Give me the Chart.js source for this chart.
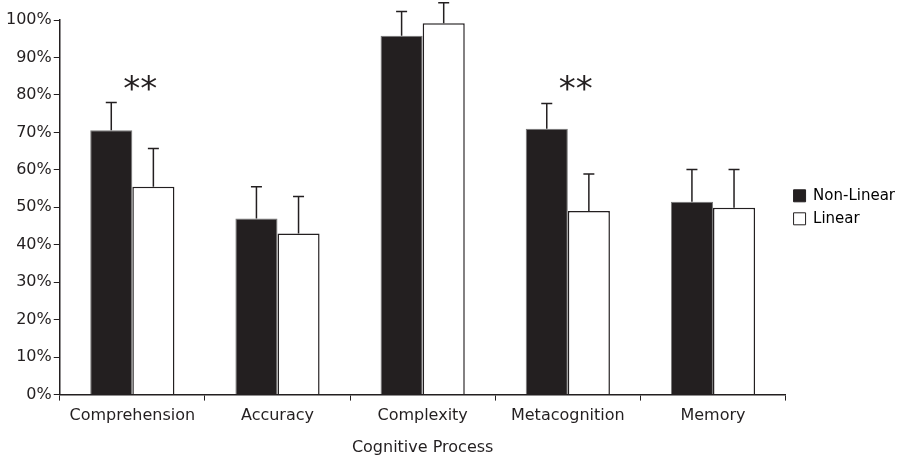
<!DOCTYPE html>
<html>
<head>
<meta charset="utf-8">
<script src="https://cdn.jsdelivr.net/npm/chart.js@4.4.0/dist/chart.umd.min.js"></script>
<style>
  html, body { margin: 0; padding: 0; background: #fff; }
  #wrap { width: 908px; height: 457px; }
</style>
</head>
<body>
<div id="wrap"><canvas id="chart" width="908" height="457"></canvas></div>
<script>
var categories = ["Comprehension", "Accuracy", "Complexity", "Metacognition", "Memory"];
var nonLinear = [70.6, 47.0, 95.8, 71.0, 51.5];
var nonLinearErr = [7.4, 8.5, 6.5, 6.7, 8.6];
var linear = [55.5, 43.0, 99.1, 49.0, 49.9];
var linearErr = [10.2, 9.9, 5.5, 9.9, 10.2];
var sigMarks = ["**", "", "", "**", ""];
var sigLevel = 82;

var ink = "#231f20";

// up-only error bars with a small cap
var errorBars = {
    id: "errorBars",
    afterDatasetsDraw: function (chart) {
        var ctx = chart.ctx;
        var yScale = chart.scales.y;
        ctx.save();
        ctx.strokeStyle = ink;
        ctx.lineWidth = 1.5;
        chart.data.datasets.forEach(function (ds, di) {
            var meta = chart.getDatasetMeta(di);
            meta.data.forEach(function (bar, i) {
                var top = yScale.getPixelForValue(ds.data[i] + ds.errors[i]);
                ctx.beginPath();
                ctx.moveTo(bar.x, bar.y);
                ctx.lineTo(bar.x, top);
                ctx.moveTo(bar.x - 5.5, top);
                ctx.lineTo(bar.x + 5.5, top);
                ctx.stroke();
            });
        });
        ctx.restore();
    }
};

// significance asterisks
var sigStars = {
    id: "sigStars",
    afterDatasetsDraw: function (chart) {
        var ctx = chart.ctx;
        var xScale = chart.scales.x, yScale = chart.scales.y;
        ctx.save();
        ctx.fillStyle = ink;
        ctx.font = "34px 'DejaVu Sans'";
        ctx.textAlign = "center";
        ctx.textBaseline = "middle";
        sigMarks.forEach(function (m, i) {
            if (!m) return;
            ctx.fillText(m, xScale.getPixelForValue(i) + 8, yScale.getPixelForValue(sigLevel) + 4);
        });
        ctx.restore();
    }
};

Chart.defaults.font.family = "'DejaVu Sans', Verdana, sans-serif";
Chart.defaults.font.size = 16;
Chart.defaults.color = ink;

new Chart(document.getElementById("chart"), {
    type: "bar",
    data: {
        labels: categories,
        datasets: [
            {
                label: "Non-Linear",
                data: nonLinear,
                errors: nonLinearErr,
                backgroundColor: ink,
                borderColor: "#777",
                borderWidth: 1
            },
            {
                label: "Linear",
                data: linear,
                errors: linearErr,
                backgroundColor: "#fff",
                borderColor: ink,
                borderWidth: 1.5
            }
        ]
    },
    options: {
        responsive: false,
        animation: false,
        categoryPercentage: 0.58,
        barPercentage: 1,
        layout: { padding: { top: 20, left: 4, right: 3, bottom: 0 } },
        plugins: {
            legend: {
                position: "right",
                fullSize: false,
                labels: {
                    boxWidth: 12,
                    boxHeight: 12,
                    padding: 8,
                    font: { size: 15 },
                    generateLabels: function (chart) {
                        return chart.data.datasets.map(function (ds, i) {
                            return {
                                text: ds.label,
                                fillStyle: ds.backgroundColor,
                                strokeStyle: ink,
                                lineWidth: 1,
                                datasetIndex: i
                            };
                        });
                    }
                }
            },
            tooltip: { enabled: false }
        },
        scales: {
            x: {
                grid: { drawOnChartArea: false, tickLength: 6, color: ink, tickColor: ink },
                border: { color: ink, width: 1.5 },
                ticks: { padding: 6 },
                title: { display: true, text: "Cognitive Process", padding: { top: 6, bottom: 0 } }
            },
            y: {
                min: 0,
                max: 100,
                grid: { drawOnChartArea: false, tickLength: 6, color: ink, tickColor: ink },
                border: { color: ink, width: 1.5 },
                ticks: {
                    stepSize: 10,
                    padding: 2,
                    callback: function (v) { return v + "%"; }
                }
            }
        }
    },
    plugins: [errorBars, sigStars]
});
</script>
</body>
</html>
